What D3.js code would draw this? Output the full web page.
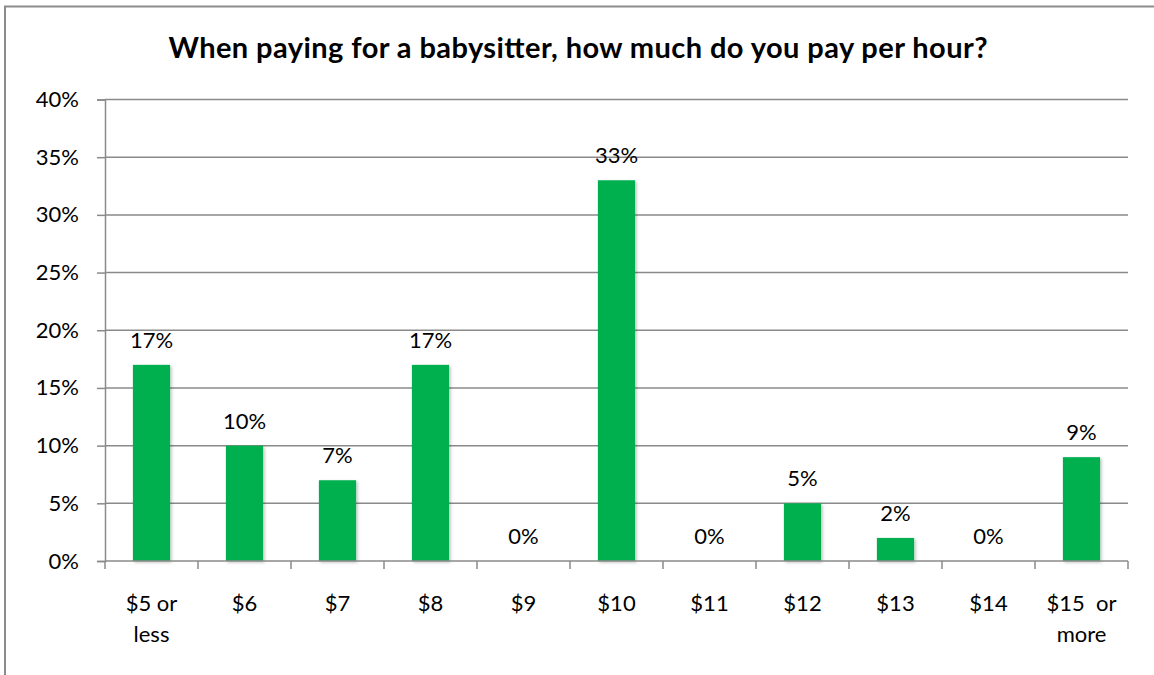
<!DOCTYPE html>
<html>
<head>
<meta charset="utf-8">
<script src="https://cdn.jsdelivr.net/npm/d3@7"></script>
<style>
  html, body { margin: 0; padding: 0; background: #fff; }
  svg { display: block; }
  text { font-family: Lato, "Open Sans", sans-serif; fill: #000; }
</style>
</head>
<body>
<svg id="chart" width="1154" height="675"></svg>
<script>
// Survey: hourly rate paid to a babysitter
const categories = ["$5 or|less", "$6", "$7", "$8", "$9", "$10", "$11", "$12", "$13", "$14", "$15  or|more"];
const shares = [17, 10, 7, 17, 0, 33, 0, 5, 2, 0, 9];
const yTicks = [0, 5, 10, 15, 20, 25, 30, 35, 40];
const title = "When paying for a babysitter, how much do you pay per hour?";

const svg = d3.select("#chart");
const W = 1154, H = 675;
const plot = { left: 105, right: 1128, top: 99.5, bottom: 561 };
const labelSize = 22;

// Outer chart frame
svg.append("rect")
  .attr("x", 5).attr("y", 6.5)
  .attr("width", W + 10).attr("height", H + 10)
  .attr("fill", "none").attr("stroke", "#8c8c8c").attr("stroke-width", 2);

svg.append("text")
  .attr("x", 578).attr("y", 57.5)
  .attr("text-anchor", "middle")
  .attr("font-weight", "bold")
  .attr("font-size", 29)
  .attr("textLength", 819)
  .attr("lengthAdjust", "spacing")
  .text(title);

const x = d3.scaleBand()
  .domain(categories)
  .range([plot.left, plot.right])
  .paddingInner(0.6).paddingOuter(0.3);

const y = d3.scaleLinear().domain([0, 40]).range([plot.bottom, plot.top]);

// Horizontal gridlines
svg.append("g")
  .selectAll("line")
  .data(yTicks.filter(d => d > 0))
  .join("line")
  .attr("x1", plot.left).attr("x2", plot.right)
  .attr("y1", d => y(d)).attr("y2", d => y(d))
  .attr("stroke", "#8a8a8a").attr("stroke-width", 1.5);

// Y axis
const yAxis = svg.append("g")
  .attr("transform", `translate(${plot.left},0)`)
  .call(d3.axisLeft(y).tickValues(yTicks).tickFormat(d => d + "%").tickSize(8).tickPadding(18));
yAxis.select(".domain").attr("stroke", "#8a8a8a").attr("stroke-width", 1.5);
yAxis.selectAll(".tick line").attr("stroke", "#8a8a8a").attr("stroke-width", 1.5);
yAxis.selectAll(".tick text").attr("font-size", labelSize).attr("font-family", "Lato, sans-serif").attr("fill", "#000");

// Bar shadow filter
const defs = svg.append("defs");
const f = defs.append("filter").attr("id", "shadow").attr("x", "-20%").attr("y", "-20%").attr("width", "150%").attr("height", "150%");
f.append("feDropShadow").attr("dx", 1.5).attr("dy", 1.5).attr("stdDeviation", 1.5).attr("flood-color", "#000").attr("flood-opacity", 0.25);

// Bars
svg.append("g")
  .selectAll("rect")
  .data(shares.map((v, i) => ({ cat: categories[i], v })))
  .join("rect")
  .attr("x", d => x(d.cat))
  .attr("y", d => y(d.v))
  .attr("width", x.bandwidth())
  .attr("height", d => y(0) - y(d.v))
  .attr("fill", "#00b050")
  .attr("filter", d => d.v > 0 ? "url(#shadow)" : null);

// X axis baseline and category separators
const step = (plot.right - plot.left) / categories.length;
const xb = svg.append("g");
xb.append("line")
  .attr("x1", plot.left).attr("x2", plot.right)
  .attr("y1", plot.bottom).attr("y2", plot.bottom)
  .attr("stroke", "#8a8a8a").attr("stroke-width", 1.5);
xb.selectAll("line.sep")
  .data(d3.range(categories.length + 1))
  .join("line").attr("class", "sep")
  .attr("x1", i => plot.left + i * step).attr("x2", i => plot.left + i * step)
  .attr("y1", plot.bottom).attr("y2", plot.bottom + 8)
  .attr("stroke", "#8a8a8a").attr("stroke-width", 1.5);

// Category labels (may wrap to two lines)
const labels = svg.append("g")
  .selectAll("text")
  .data(categories)
  .join("text")
  .attr("text-anchor", "middle")
  .attr("font-size", labelSize)
  .attr("x", d => x(d) + x.bandwidth() / 2)
  .attr("y", 611);
labels.each(function (d) {
  const parts = d.split("|");
  const t = d3.select(this);
  parts.forEach((p, i) => {
    t.append("tspan")
      .attr("x", x(d) + x.bandwidth() / 2)
      .attr("dy", i === 0 ? 0 : 31)
      .style("white-space", "pre")
      .text(p);
  });
});

// Value labels
svg.append("g")
  .selectAll("text")
  .data(shares.map((v, i) => ({ cat: categories[i], v })))
  .join("text")
  .attr("text-anchor", "middle")
  .attr("font-size", labelSize)
  .attr("x", d => x(d.cat) + x.bandwidth() / 2)
  .attr("y", d => y(d.v) - 17)
  .text(d => d.v + "%");
</script>
</body>
</html>
